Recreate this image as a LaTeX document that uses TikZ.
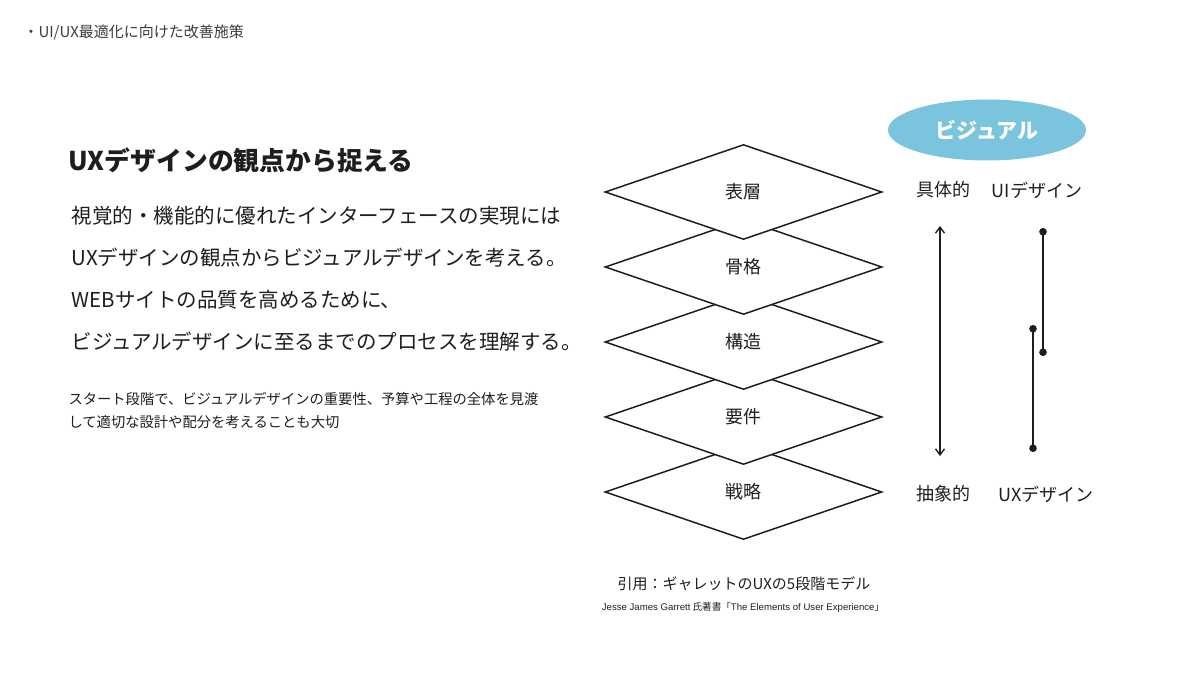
\documentclass[tikz,border=0pt]{standalone}
\usepackage{fontspec}
\setmainfont{Noto Sans CJK JP}
\newfontfamily\latinfont{Liberation Sans}
\usetikzlibrary{shapes.geometric,arrows.meta}
\definecolor{visualblue}{RGB}{122,197,221}
\definecolor{inkgray}{RGB}{30,30,30}
\definecolor{headgray}{RGB}{60,60,60}
\newcommand{\setsize}[1]{\fontsize{#1}{#1}\selectfont}

\begin{document}
\begin{tikzpicture}[x=1pt,y=-1pt,
    layer/.style={diamond,draw=inkgray,line width=1.5pt,fill=white,
      minimum width=277pt,minimum height=95pt,inner sep=0pt,
      text=inkgray,font=\setsize{18}},
    side/.style={text=inkgray,font=\setsize{18}},
    body/.style={anchor=west,text=inkgray,font=\setsize{20.5}},
    note/.style={anchor=west,text=inkgray,font=\setsize{14.3}}]
  \useasboundingbox[fill=white] (0,0) rectangle (1200,674);

  % header and text block
  \node[anchor=west,text=headgray,font=\setsize{15}] (head) at (20,33) {・UI/UX最適化に向けた改善施策};
  \node[anchor=west,text=inkgray,font=\bfseries\setsize{25.8}] (title) at (65,160) {UXデザインの観点から捉える};
  \node[body] (line1) at (68,216) {視覚的・機能的に優れたインターフェースの実現には};
  \node[body] (line2) at (68,258) {UXデザインの観点からビジュアルデザインを考える。};
  \node[body] (line3) at (68,300) {WEBサイトの品質を高めるために、};
  \node[body] (line4) at (68,342) {ビジュアルデザインに至るまでのプロセスを理解する。};
  \node[note] (note1) at (65,399) {スタート段階で、ビジュアルデザインの重要性、予算や工程の全体を見渡};
  \node[note] (note2) at (65,422) {して適切な設計や配分を考えることも大切};

  % the five planes, lowest first
  \node[layer] (strategy) at (743.5,492) {戦略};
  \node[layer] (scope) at (743.5,417) {要件};
  \node[layer] (structure) at (743.5,342) {構造};
  \node[layer] (skeleton) at (743.5,267) {骨格};
  \node[layer] (surface) at (743.5,192) {表層};

  % right side
  \node[ellipse,fill=visualblue,minimum width=198pt,minimum height=61pt,
    text=white,font=\bfseries\setsize{21}] (visual) at (987,130) {ビジュアル};
  \node[side] (concrete) at (943,190) {具体的};
  \node[side] (uidesign) at (1037,190) {UIデザイン};
  \node[side] (abstract) at (943,494) {抽象的};
  \node[side] (uxdesign) at (1046,494) {UXデザイン};

  \coordinate (arrowtop) at (940,226);
  \coordinate (arrowbot) at (940,456);
  \coordinate (uitop) at (1043,228);
  \coordinate (uibot) at (1043,356);
  \coordinate (uxtop) at (1033,325);
  \coordinate (uxbot) at (1033,452);

  \draw (arrowtop) edge[{Straight Barb[length=6pt,width=9pt]}-{Straight Barb[length=6pt,width=9pt]},line width=1.4pt,inkgray] (arrowbot);
  \draw (uitop) edge[{Circle[length=7.5pt]}-{Circle[length=7.5pt]},line width=2pt,inkgray] (uibot);
  \draw (uxtop) edge[{Circle[length=7.5pt]}-{Circle[length=7.5pt]},line width=1.5pt,inkgray] (uxbot);

  % citation
  \node[text=inkgray,font=\setsize{15}] (cite) at (744,584) {引用：ギャレットのUXの5段階モデル};
  \node[text=inkgray,font=\setsize{9.6}] (source) at (743,607) {{\latinfont Jesse James Garrett} 氏著書「{\latinfont The Elements of User Experience}」};
\end{tikzpicture}
\end{document}
